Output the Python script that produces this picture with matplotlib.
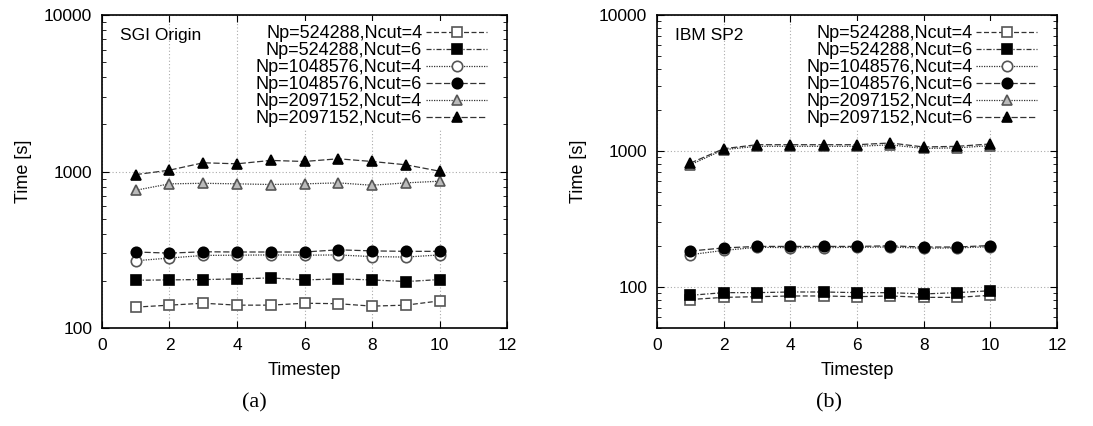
import matplotlib
matplotlib.use("Agg")
import matplotlib.pyplot as plt

# Data
timestep = [1, 2, 3, 4, 5, 6, 7, 8, 9, 10]

labels = ["Np=524288,Ncut=4", "Np=524288,Ncut=6",
          "Np=1048576,Ncut=4", "Np=1048576,Ncut=6",
          "Np=2097152,Ncut=4", "Np=2097152,Ncut=6"]

# (a) SGI Origin
sgi_524k_4 = [136, 140, 144, 140, 140, 144, 143, 138, 140, 149]
sgi_524k_6 = [202, 203, 204, 206, 209, 203, 206, 203, 198, 204]
sgi_1m_4 = [269, 280, 291, 292, 293, 292, 293, 286, 284, 293]
sgi_1m_6 = [306, 301, 307, 306, 306, 306, 316, 311, 309, 309]
sgi_2m_4 = [759, 834, 841, 834, 826, 834, 846, 817, 846, 867]
sgi_2m_6 = [955, 1020, 1137, 1120, 1177, 1159, 1206, 1159, 1104, 1005]

# (b) IBM SP2
sp2_524k_4 = [81, 84, 85, 86, 86, 85, 86, 84, 84, 87]
sp2_524k_6 = [87, 91, 91, 92, 92, 91, 91, 89, 91, 94]
sp2_1m_4 = [173, 186, 196, 195, 195, 196, 197, 193, 194, 198]
sp2_1m_6 = [184, 194, 199, 199, 199, 199, 201, 197, 197, 202]
sp2_2m_4 = [792, 1024, 1083, 1083, 1083, 1083, 1110, 1045, 1055, 1095]
sp2_2m_6 = [815, 1040, 1113, 1113, 1113, 1113, 1146, 1071, 1083, 1127]

sgi = [sgi_524k_4, sgi_524k_6, sgi_1m_4, sgi_1m_6, sgi_2m_4, sgi_2m_6]
sp2 = [sp2_524k_4, sp2_524k_6, sp2_1m_4, sp2_1m_6, sp2_2m_4, sp2_2m_6]

# gnuplot-like styles: marker, face, edge, linestyle
styles = [
    ("s", "white", "#555555", (0, (4, 2))),
    ("s", "black", "black", (0, (4, 1.5, 1, 1.5))),
    ("o", "white", "#555555", (0, (1, 1))),
    ("o", "black", "black", (0, (5, 2))),
    ("^", "#bbbbbb", "#555555", (0, (1, 1))),
    ("^", "black", "black", (0, (5, 2))),
]

plt.rcParams["font.family"] = "Liberation Sans"
plt.rcParams["font.size"] = 12.5

fig = plt.figure(figsize=(10.93, 4.26), dpi=100)
ax_a = fig.add_axes([0.0933, 0.23, 0.3706, 0.7348])
ax_b = fig.add_axes([0.6011, 0.23, 0.3660, 0.7348])


def draw_panel(ax, series, name, ylim):
    for vals, lab, (mk, fc, ec, ls) in zip(series, labels, styles):
        ax.plot(timestep, vals, linestyle=ls, color="#333333", linewidth=0.9,
                marker=mk, markersize=7.5, markerfacecolor=fc,
                markeredgecolor=ec, markeredgewidth=1.2, label=lab)
    ax.set_yscale("log")
    ax.set_xlim(0, 12)
    ax.set_ylim(*ylim)
    ax.set_xticks([0, 2, 4, 6, 8, 10, 12])
    ax.grid(True, which="major", color="#aaaaaa", linestyle=(0, (1, 2)),
            linewidth=0.8)
    ax.tick_params(which="both", direction="in", top=True, right=True,
                   labelsize=12.5)
    ax.tick_params(which="major", length=5, pad=7)
    ax.tick_params(which="minor", length=3)
    ax.yaxis.set_major_formatter(plt.FuncFormatter(lambda v, p: f"{v:.0f}"))
    ax.yaxis.set_minor_formatter(plt.NullFormatter())
    ax.set_xlabel("Timestep", labelpad=7, fontsize=13)
    ax.set_ylabel("Time [s]", labelpad=9, fontsize=13)
    ax.text(0.044, 0.935, name, transform=ax.transAxes, va="center",
            ha="left", fontsize=12.5)
    leg = ax.legend(loc="upper right", bbox_to_anchor=(0.96, 0.98),
                    markerfirst=False, handlelength=3.4,
                    handletextpad=0.2, labelspacing=0.0, borderpad=0.2,
                    borderaxespad=0.0, frameon=True, fancybox=False,
                    framealpha=1, edgecolor="none", facecolor="white",
                    fontsize=13)
    for sp in ax.spines.values():
        sp.set_linewidth(1.2)
    return leg


draw_panel(ax_a, sgi, "SGI Origin", (100, 10000))
draw_panel(ax_b, sp2, "IBM SP2", (50, 10000))

fig.text(0.2324, 0.054, "(a)", family="Liberation Serif", fontsize=16,
         ha="center", va="center")
fig.text(0.7585, 0.054, "(b)", family="Liberation Serif", fontsize=16,
         ha="center", va="center")

fig.savefig("out.png", dpi=100)
